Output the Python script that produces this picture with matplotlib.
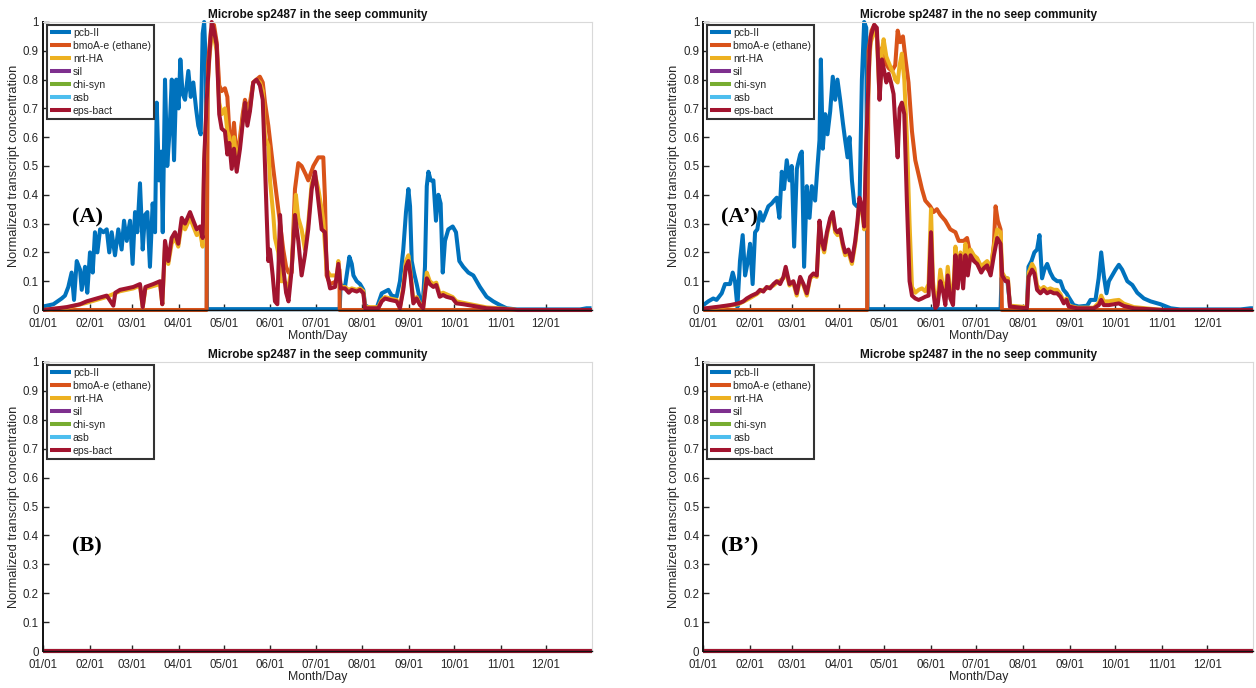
import datetime as dt
import matplotlib
matplotlib.use("Agg")
import matplotlib.pyplot as plt

# ---------------- data ----------------
series_names = ["pcb-II", "bmoA-e (ethane)", "nrt-HA", "sil", "chi-syn", "asb", "eps-bact"]
series_colors = ["#0072BD", "#D95319", "#EDB120", "#7E2F8E", "#77AC30", "#4DBEEE", "#A2142F"]
month_labels = ["01/01", "02/01", "03/01", "04/01", "05/01", "06/01",
                "07/01", "08/01", "09/01", "10/01", "11/01", "12/01"]
titles = ["Microbe sp2487 in the seep community", "Microbe sp2487 in the no seep community",
          "Microbe sp2487 in the seep community", "Microbe sp2487 in the no seep community"]
panel_tags = ["(A)", "(A\u2019)", "(B)", "(B\u2019)"]

# ----- panel A (seep) -----
seep_pcb_day = [0, 6.9, 12.4, 14.6, 16.8, 19, 20.6, 22.4, 24.6, 25.7, 27.9, 29.4, 31.2, 33, 34.5, 36.1,
                37.9, 40.1, 42.3, 44, 45.6, 47.8, 50, 52.2, 53.8, 55.6, 57.8, 59.5, 61.1, 62.6, 64.4,
                66.2, 67.7, 69.3, 71, 72.8, 74.4, 75.5, 77, 78.5, 79.5, 81, 82.5, 84, 85.5, 87, 88.5,
                90, 91.2, 92.7, 94.3, 96.5, 98.1, 99.8, 101.6, 103.1, 104.7, 106, 107, 108.2, 108.8,
                197, 197.6, 200.5, 203.4, 205, 206.1, 208.3, 210.5, 212.7, 213.8, 217.1, 221.5, 224.9,
                227.1, 229.3, 231.5, 234.8, 237, 239.2, 241, 242.6, 243.7, 244.8, 246.3, 248.1, 250.3,
                252.1, 253.6, 254.8, 255.9, 257.4, 259.2, 260.9, 262.5, 264, 265.4, 266.9, 269.1, 272,
                274.2, 276.4, 279, 282.4, 285.7, 290.1, 294.5, 298.9, 303.4, 307.8, 314.4, 356.5,
                360.9, 364.2]
seep_pcb_val = [0.012, 0.02, 0.04, 0.05, 0.08, 0.13, 0.035, 0.17, 0.14, 0.07, 0.15, 0.06, 0.2, 0.13, 0.27,
                0.2, 0.28, 0.27, 0.28, 0.2, 0.27, 0.19, 0.28, 0.21, 0.31, 0.24, 0.31, 0.16, 0.34, 0.27,
                0.44, 0.21, 0.33, 0.34, 0.15, 0.37, 0.27, 0.72, 0.45, 0.55, 0.27, 0.8, 0.5, 0.62, 0.8,
                0.52, 0.8, 0.7, 0.87, 0.75, 0.73, 0.83, 0.74, 0.79, 0.7, 0.64, 0.61, 0.96, 1.0, 0.84,
                0.003, 0.003, 0.087, 0.08, 0.185, 0.16, 0.12, 0.1, 0.09, 0.07, 0.017, 0.006, 0.006,
                0.058, 0.064, 0.07, 0.05, 0.046, 0.1, 0.21, 0.34, 0.42, 0.36, 0.17, 0.13, 0.09, 0.035,
                0.017, 0.15, 0.43, 0.48, 0.45, 0.45, 0.31, 0.4, 0.37, 0.13, 0.24, 0.28, 0.29, 0.27,
                0.17, 0.15, 0.13, 0.12, 0.08, 0.046, 0.03, 0.017, 0.006, 0.002, 0.002, 0.006, 0.006]

seep_bmo_day = [0, 108.6, 109.5, 111.5, 113.5, 115.3, 117, 118.6, 120.8, 122.4, 123.7, 125.3, 126.8,
                128.6, 130.8, 132.6, 134.1, 135.7, 137.4, 139.6, 141.8, 144, 145.9, 147.4, 149.6,
                152.9, 156.2, 159.5, 161.4, 163, 165.1, 167.3, 169.5, 171.7, 174.5, 176.1, 179.5,
                182.8, 186.1, 187.2, 188.3, 190.6, 195.1, 196.1, 196.8, 197, 364.5]
seep_bmo_val = [0, 0, 0.85, 0.97, 0.99, 0.93, 0.78, 0.76, 0.77, 0.74, 0.62, 0.56, 0.65, 0.52, 0.6, 0.68,
                0.73, 0.7, 0.72, 0.79, 0.8, 0.81, 0.79, 0.72, 0.64, 0.49, 0.35, 0.21, 0.15, 0.13, 0.13,
                0.42, 0.51, 0.5, 0.47, 0.45, 0.5, 0.53, 0.53, 0.39, 0.12, 0.09, 0.1, 0.14, 0.14, 0, 0]

seep_nrt_day = [0, 16, 29, 42, 51, 60, 64.4, 66.2, 68, 77.7, 79.2, 81, 83.2, 85.4, 87.6, 89.8, 92.1,
                94.3, 97.6, 99.8, 102.1, 104.3, 106, 107, 108.7, 110.4, 112, 113.5, 115.3, 117, 118.6,
                120.8, 122.4, 123.7, 125.3, 126.8, 128.6, 130.8, 132.6, 134.1, 135.7, 137.4, 139.6,
                141.8, 144, 145.9, 147.4, 149.6, 150.7, 152.9, 154, 156.2, 158, 160, 163, 165.1, 167.9,
                169.5, 171.7, 173.9, 176.1, 178.4, 180.6, 182.8, 185, 186.1, 188.3, 190.6, 195.1,
                196.1, 197.7, 200.5, 203, 205, 208.3, 210.5, 212.7, 213.8, 222.6, 224.9, 227.1, 230.4,
                234.8, 237, 239.2, 241, 242.6, 244, 245.9, 248.1, 250.3, 252.4, 254.8, 256.8, 259.2,
                261.1, 263.4, 265.6, 267.8, 272, 274.5, 279, 285.7, 294.5, 307.8, 315, 364.5]
seep_nrt_val = [0, 0.008, 0.025, 0.045, 0.065, 0.075, 0.085, 0.01, 0.075, 0.09, 0.02, 0.22, 0.16, 0.23,
                0.25, 0.22, 0.3, 0.28, 0.32, 0.29, 0.26, 0.27, 0.22, 0.5, 0.72, 0.87, 0.96, 0.95, 0.9,
                0.72, 0.68, 0.7, 0.62, 0.6, 0.52, 0.6, 0.5, 0.58, 0.66, 0.72, 0.66, 0.7, 0.79, 0.8, 0.79,
                0.76, 0.6, 0.57, 0.45, 0.33, 0.25, 0.2, 0.1, 0.1, 0.08, 0.15, 0.4, 0.32, 0.28, 0.21, 0.3,
                0.44, 0.47, 0.42, 0.35, 0.31, 0.14, 0.12, 0.12, 0.17, 0.08, 0.08, 0.07, 0.075, 0.07,
                0.075, 0.065, 0.01, 0.01, 0.035, 0.045, 0.04, 0.035, 0.01, 0.08, 0.17, 0.19, 0.13, 0.03,
                0.045, 0.02, 0.008, 0.13, 0.1, 0.09, 0.095, 0.055, 0.06, 0.055, 0.045, 0.03, 0.025,
                0.018, 0.009, 0.004, 0, 0]

seep_eps_day = [0, 15.7, 24.6, 29, 35.6, 42.3, 46.7, 48, 51.1, 55.6, 60, 64.4, 66.2, 68, 73.2, 77.7,
                79.2, 81, 83.2, 85.4, 87.6, 89.8, 92.1, 94.3, 97.6, 99.8, 102.1, 104.3, 106, 107, 108.7,
                110.4, 112, 113.5, 115.3, 117, 118.6, 120.8, 122.4, 123.7, 125.3, 126.8, 128.6, 130.8,
                132.6, 134.1, 135.7, 137.4, 139.6, 141.8, 144, 145.9, 147.4, 148.5, 149.6, 150.7,
                152.5, 154, 155.6, 157.4, 159.2, 161.4, 163, 165.1, 167.3, 169.5, 171.7, 173.9, 176.1,
                178.4, 180.6, 182.8, 185, 187.2, 188.8, 190.6, 193.9, 196.1, 197.7, 200.5, 203, 205,
                208.3, 210.5, 212.7, 213.8, 222.6, 224.9, 227.1, 230.4, 234.8, 237, 239.2, 241, 242.6,
                244, 245.9, 248.1, 250.3, 252.4, 254.8, 256.8, 259.2, 261.1, 263.4, 265.6, 267.8, 272,
                274.5, 279, 285.7, 294.5, 307.8, 315, 364.5]
seep_eps_val = [0, 0.01, 0.02, 0.03, 0.04, 0.05, 0.015, 0.06, 0.07, 0.075, 0.08, 0.09, 0.01, 0.08, 0.09,
                0.1, 0.02, 0.24, 0.17, 0.25, 0.27, 0.23, 0.32, 0.3, 0.34, 0.31, 0.28, 0.29, 0.25, 0.52,
                0.73, 0.88, 1.0, 0.97, 0.92, 0.68, 0.63, 0.62, 0.54, 0.58, 0.49, 0.56, 0.48, 0.56, 0.65,
                0.72, 0.64, 0.69, 0.79, 0.8, 0.78, 0.73, 0.5, 0.33, 0.17, 0.21, 0.12, 0.03, 0.02, 0.33,
                0.16, 0.06, 0.03, 0.14, 0.33, 0.24, 0.12, 0.19, 0.28, 0.42, 0.48, 0.38, 0.28, 0.27, 0.12,
                0.075, 0.08, 0.16, 0.075, 0.075, 0.06, 0.07, 0.064, 0.07, 0.058, 0.006, 0.006, 0.03,
                0.04, 0.035, 0.03, 0.006, 0.07, 0.15, 0.17, 0.12, 0.023, 0.04, 0.017, 0.006, 0.11, 0.09,
                0.08, 0.087, 0.046, 0.052, 0.046, 0.04, 0.023, 0.02, 0.014, 0.006, 0.003, 0, 0]

# ----- panel A' (no seep) -----
noseep_pcb_day = [0, 3.3, 6.6, 8.8, 12.2, 14.4, 17.7, 19.5, 21, 22.6, 24.3, 26.1, 27.7, 29.2, 31, 32.7,
                  34.3, 35.8, 37.6, 39.4, 40.9, 43.1, 45.4, 46.9, 48.7, 50.4, 52, 53.5, 55.3, 57.1,
                  58.6, 60.2, 62, 64.2, 65.3, 66.8, 68.6, 70.4, 71.9, 74.1, 75.7, 77, 77.9, 79.2, 80.8,
                  82.3, 84.1, 85.8, 87.4, 88.9, 90.7, 92.5, 94, 95.6, 96.9, 98.5, 100, 101.8, 103.5,
                  105.1, 106.6, 108, 108.8, 197, 197.6, 201.3, 203.5, 214.5, 215.5, 217.5, 219.4,
                  221.2, 222.8, 224.5, 226, 227.9, 230, 232, 234.5, 236.7, 238.7, 240.7, 242, 245.4,
                  248.8, 254.4, 256.6, 259.9, 262, 263.7, 265.4, 267.2, 268.8, 271, 273.2, 275.4, 277.6,
                  281, 284.3, 287.6, 292, 296.4, 303, 309.7, 316, 356, 362.6, 364.5]
noseep_pcb_val = [0.017, 0.03, 0.04, 0.035, 0.058, 0.09, 0.09, 0.13, 0.1, 0.01, 0.17, 0.26, 0.12, 0.16,
                  0.23, 0.09, 0.27, 0.28, 0.34, 0.31, 0.33, 0.36, 0.37, 0.38, 0.39, 0.32, 0.48, 0.42,
                  0.52, 0.45, 0.5, 0.22, 0.49, 0.54, 0.55, 0.15, 0.43, 0.32, 0.43, 0.38, 0.5, 0.59, 0.87,
                  0.56, 0.68, 0.61, 0.69, 0.81, 0.73, 0.8, 0.73, 0.65, 0.59, 0.53, 0.6, 0.45, 0.37, 0.36,
                  0.36, 0.8, 1.0, 0.98, 0.003, 0.003, 0.11, 0.11, 0.01, 0.01, 0.15, 0.17, 0.2, 0.21,
                  0.26, 0.11, 0.14, 0.16, 0.13, 0.11, 0.1, 0.1, 0.07, 0.058, 0.046, 0.017, 0.012, 0.015,
                  0.035, 0.035, 0.11, 0.2, 0.12, 0.058, 0.1, 0.12, 0.14, 0.157, 0.14, 0.1, 0.087, 0.06,
                  0.04, 0.03, 0.02, 0.006, 0.002, 0.002, 0.006, 0.006]

noseep_bmo_day = [0, 108.6, 109.5, 111.5, 113.3, 115, 116.1, 118.4, 120.6, 122.8, 125, 127.2, 128.8,
                  130.5, 132.3, 133.8, 136, 138.3, 140.5, 142.7, 144.9, 147.1, 150.4, 152.6, 154.8,
                  157.1, 160.4, 163.7, 167.1, 169.3, 172.6, 174.8, 177.1, 180.4, 183.7, 187, 190.4,
                  192.6, 193.7, 195.2, 197, 197.9, 364.5]
noseep_bmo_val = [0, 0, 0.9, 0.97, 0.99, 0.95, 0.88, 0.91, 0.86, 0.84, 0.83, 0.85, 0.97, 0.93, 0.95, 0.88,
                  0.79, 0.62, 0.52, 0.47, 0.42, 0.38, 0.36, 0.34, 0.35, 0.33, 0.31, 0.28, 0.27, 0.24,
                  0.24, 0.25, 0.19, 0.17, 0.145, 0.15, 0.13, 0.23, 0.36, 0.31, 0.28, 0, 0]

noseep_nrt_day = [0, 11, 23.2, 28.8, 35.4, 37.6, 42, 46.5, 48.7, 53.1, 54.6, 57.1, 59.7, 61.9, 64.2, 66.4,
                  68.6, 70.8, 73, 75.2, 77, 78.5, 80.1, 81.9, 84.1, 85.8, 87.4, 88.9, 90.7, 92.5, 94,
                  96.2, 98.5, 100.7, 102.2, 103.5, 105.1, 106.6, 108, 110.2, 111, 113.3, 115, 116.8,
                  118.4, 119.5, 121.3, 122.8, 124.4, 126.1, 127.2, 128.8, 130.1, 131.6, 133.2, 134.9,
                  136.7, 138.3, 140.5, 142.7, 144.9, 147.1, 149.3, 150.9, 152.2, 153.8, 155.3, 157.1,
                  158.9, 160.4, 162, 163.7, 165.5, 167.1, 168.6, 170.4, 172.2, 173.7, 175.3, 177.1,
                  179.3, 181.5, 184.2, 185.9, 188.1, 190.4, 192.6, 194.8, 197, 198.1, 200.3, 201.9,
                  203.2, 214.5, 215.6, 217.9, 219.4, 221.2, 223.4, 225.6, 227.8, 230, 232.3, 234.5,
                  236.7, 238.9, 240.7, 242.2, 247.7, 258.8, 262.1, 263.7, 265.4, 268.8, 272.1, 275.4,
                  278.7, 285.4, 295, 305, 364.5]
noseep_nrt_val = [0.003, 0.01, 0.02, 0.035, 0.055, 0.065, 0.075, 0.085, 0.095, 0.11, 0.14, 0.085, 0.095,
                  0.05, 0.11, 0.085, 0.05, 0.11, 0.12, 0.115, 0.3, 0.23, 0.2, 0.26, 0.31, 0.33, 0.27,
                  0.26, 0.27, 0.22, 0.19, 0.2, 0.16, 0.23, 0.3, 0.38, 0.35, 0.28, 0.56, 0.88, 0.93, 0.97,
                  0.95, 0.74, 0.9, 0.94, 0.88, 0.86, 0.84, 0.82, 0.8, 0.79, 0.85, 0.89, 0.8, 0.6, 0.3,
                  0.08, 0.06, 0.07, 0.075, 0.065, 0.09, 0.35, 0.1, 0.03, 0.04, 0.14, 0.08, 0.05, 0.15,
                  0.06, 0.05, 0.22, 0.12, 0.2, 0.15, 0.23, 0.18, 0.21, 0.19, 0.18, 0.15, 0.16, 0.17,
                  0.14, 0.22, 0.28, 0.27, 0.13, 0.11, 0.11, 0.015, 0.01, 0.13, 0.16, 0.145, 0.085, 0.07,
                  0.08, 0.07, 0.075, 0.07, 0.07, 0.055, 0.03, 0.04, 0.015, 0.008, 0.008, 0.025, 0.05,
                  0.03, 0.03, 0.033, 0.035, 0.022, 0.01, 0.005, 0, 0]

noseep_eps_day = [0, 11, 17.7, 23.2, 26.5, 28.8, 32.1, 35.4, 37.6, 39.8, 42, 44.2, 46.5, 48.7, 50.9,
                  53.1, 54.6, 57.1, 59.7, 61.9, 64.2, 66.4, 68.6, 70.8, 73, 75.2, 77, 78.5, 80.1, 81.9,
                  84.1, 85.8, 87.4, 88.9, 90.7, 92.5, 94, 96.2, 98.5, 100.7, 102.2, 103.5, 105.1, 106.6,
                  108, 110.2, 111, 113.3, 115, 116.8, 118.4, 119.5, 121.3, 122.8, 124.4, 126.1, 127.2,
                  128.8, 130.1, 131.6, 133.2, 134.9, 136.7, 138.3, 140.5, 142.7, 144.9, 147.1, 149.3,
                  150.9, 152.2, 153.8, 155.3, 157.1, 158.9, 160.4, 162, 163.7, 165.5, 167.1, 168.6,
                  170.4, 172.2, 173.7, 175.3, 177.1, 179.3, 181.5, 184.2, 185.9, 188.1, 190.4, 192.6,
                  194.8, 197, 198.1, 200.3, 201.9, 203.2, 214.5, 215.6, 217.9, 219.4, 221.2, 223.4,
                  225.6, 227.8, 230, 232.3, 234.5, 236.7, 238.9, 240.7, 242.2, 247.7, 258.8, 262.1,
                  263.7, 265.4, 268.8, 272.1, 275.4, 278.7, 285.4, 295, 305, 364.5]
noseep_eps_val = [0.005, 0.012, 0.017, 0.023, 0.03, 0.04, 0.05, 0.058, 0.07, 0.064, 0.08, 0.075, 0.09,
                  0.1, 0.09, 0.115, 0.15, 0.09, 0.1, 0.058, 0.115, 0.09, 0.058, 0.115, 0.127, 0.12, 0.31,
                  0.24, 0.21, 0.27, 0.32, 0.34, 0.28, 0.27, 0.28, 0.23, 0.2, 0.21, 0.17, 0.24, 0.31, 0.39,
                  0.36, 0.29, 0.58, 0.9, 0.95, 0.99, 0.98, 0.73, 0.87, 0.84, 0.79, 0.82, 0.79, 0.75, 0.65,
                  0.53, 0.7, 0.72, 0.68, 0.38, 0.1, 0.05, 0.04, 0.035, 0.04, 0.046, 0.05, 0.27, 0.075,
                  0.006, 0.017, 0.1, 0.064, 0.017, 0.12, 0.04, 0.017, 0.19, 0.075, 0.19, 0.075, 0.19,
                  0.12, 0.19, 0.17, 0.16, 0.13, 0.145, 0.155, 0.12, 0.19, 0.25, 0.23, 0.12, 0.1, 0.1,
                  0.012, 0.006, 0.115, 0.14, 0.127, 0.07, 0.058, 0.07, 0.058, 0.064, 0.058, 0.058, 0.046,
                  0.023, 0.035, 0.012, 0.006, 0.006, 0.017, 0.035, 0.017, 0.017, 0.02, 0.023, 0.014,
                  0.006, 0.003, 0, 0]

# lower panels: every transcript stays at zero all year
flat_day = [0, 364.5]
flat_val = [0, 0]

# ---------------- figure ----------------
TXT = "#262626"
plt.rcParams["font.family"] = ["Liberation Sans", "DejaVu Sans"]

fig = plt.figure(figsize=(12.56, 6.88), dpi=100)
W, H = 1256.0, 688.0
rects = [
    (43 / W, 1 - 310 / H, 549 / W, 288 / H),
    (703.3 / W, 1 - 310 / H, 550 / W, 288 / H),
    (43 / W, 1 - 651 / H, 549 / W, 289 / H),
    (703.3 / W, 1 - 651 / H, 550 / W, 289 / H),
]

empty = ([], [])
panel_data = [
    [(seep_pcb_day, seep_pcb_val), (seep_bmo_day, seep_bmo_val), (seep_nrt_day, seep_nrt_val),
     empty, empty, empty, (seep_eps_day, seep_eps_val)],
    [(noseep_pcb_day, noseep_pcb_val), (noseep_bmo_day, noseep_bmo_val), (noseep_nrt_day, noseep_nrt_val),
     empty, empty, empty, (noseep_eps_day, noseep_eps_val)],
    [(flat_day, flat_val)] * 7,
    [(flat_day, flat_val)] * 7,
]
tag_pos = [(19, 0.32), (12, 0.32), (19, 0.36), (12, 0.36)]

year0 = dt.date(2017, 1, 1)
month_pos = [(dt.date(2017, m, 1) - year0).days for m in range(1, 13)]

for i, rect in enumerate(rects):
    ax = fig.add_axes(rect)
    for (xd, yd), name, col in zip(panel_data[i], series_names, series_colors):
        ax.plot(xd, yd, color=col, lw=2.9, label=name, clip_on=False,
                solid_joinstyle="round", solid_capstyle="butt")
    ax.set_xlim(0, 364.5)
    ax.set_ylim(0, 1)
    ax.set_xticks(month_pos)
    ax.set_xticklabels(month_labels)
    ax.set_yticks([k / 10 for k in range(11)])
    ax.set_yticklabels(["0", "0.1", "0.2", "0.3", "0.4", "0.5", "0.6", "0.7", "0.8", "0.9", "1"])
    ax.tick_params(direction="in", length=4, width=1.0, colors=TXT, labelsize=8.3)
    ax.tick_params(axis="x", pad=6)
    ax.tick_params(axis="y", pad=3)
    for s in ("top", "right"):
        ax.spines[s].set_color("#d9d9d9")
        ax.spines[s].set_linewidth(0.8)
    ax.spines["left"].set_color("#111111")
    ax.spines["left"].set_linewidth(1.4)
    ax.spines["bottom"].set_color("#111111")
    ax.spines["bottom"].set_linewidth(1.0)
    ax.set_title(titles[i], fontsize=8.5, fontweight="bold", color="#111111", pad=3)
    ax.set_xlabel("Month/Day", fontsize=8.8, color=TXT, labelpad=0)
    ax.set_ylabel("Normalized transcript concentration", fontsize=9.3, color=TXT, labelpad=2)
    ax.text(tag_pos[i][0], tag_pos[i][1], panel_tags[i], fontsize=16, fontweight="bold",
            family="Liberation Serif", ha="left", va="center", color="black")
    leg = ax.legend(loc="upper left", bbox_to_anchor=(0.007, 0.99), borderaxespad=0,
                    fontsize=7.5, handlelength=2.0, handletextpad=0.2, labelspacing=0.28,
                    borderpad=0.3, fancybox=False, framealpha=1)
    leg.get_frame().set_edgecolor("#333333")
    leg.get_frame().set_linewidth(1.5)
    for line in leg.get_lines():
        line.set_solid_capstyle("butt")
    for t in leg.get_texts():
        t.set_color(TXT)

fig.savefig("out.png", dpi=100)
